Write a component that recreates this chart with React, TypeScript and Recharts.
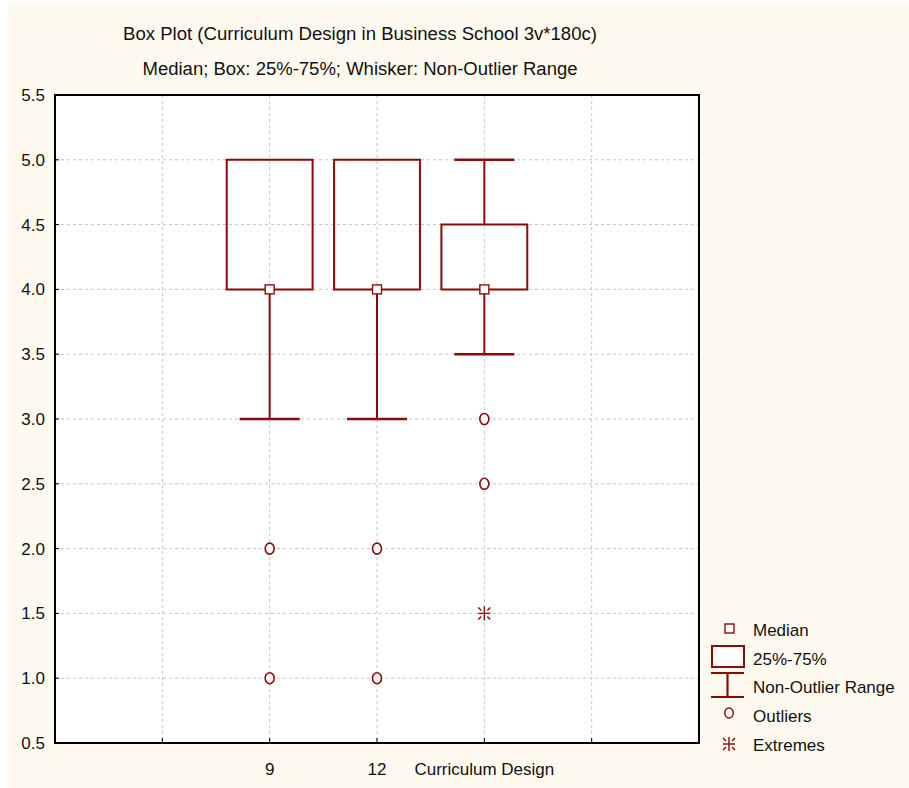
import {
  CartesianGrid,
  ComposedChart,
  ReferenceArea,
  ReferenceLine,
  Scatter,
  XAxis,
  YAxis
} from "recharts";

const xPositions = [2, 3, 4];
const xTickLabels = ["", "9", "12", "Curriculum Design", ""];
const yTicks = [0.5, 1.0, 1.5, 2.0, 2.5, 3.0, 3.5, 4.0, 4.5, 5.0, 5.5];

const whiskerLow = [3.0, 3.0, 3.5];
const quartile1 = [4.0, 4.0, 4.0];
const medians = [4.0, 4.0, 4.0];
const quartile3 = [5.0, 5.0, 4.5];
const whiskerHigh = [5.0, 5.0, 5.0];

const outliers = [
  { x: 2, y: 2.0 },
  { x: 2, y: 1.0 },
  { x: 3, y: 2.0 },
  { x: 3, y: 1.0 },
  { x: 4, y: 3.0 },
  { x: 4, y: 2.5 }
];
const extremes = [{ x: 4, y: 1.5 }];

const legendLabels = ["Median", "25%-75%", "Non-Outlier Range", "Outliers", "Extremes"];

const title = "Box Plot (Curriculum Design in Business School 3v*180c)";
const subtitle = "Median; Box: 25%-75%; Whisker: Non-Outlier Range";

const RED = "#8b0a0a";
const FONT = "'Liberation Sans', Arial, sans-serif";
const BOX_HALF = 0.4;
const CAP_HALF = 0.28;

const medianData = xPositions.map((x, i) => ({ x, y: medians[i] }));

function MedianShape(props: any) {
  const { cx, cy } = props;
  return <rect x={cx - 4.5} y={cy - 4.5} width={9} height={9} fill="#fff" stroke={RED} strokeWidth={1.4} />;
}

function OutlierShape(props: any) {
  const { cx, cy } = props;
  return <ellipse cx={cx} cy={cy} rx={4.5} ry={5.5} fill="#fff" stroke={RED} strokeWidth={1.6} />;
}

function Asterisk({ cx, cy }: { cx: number; cy: number }) {
  const d = [3, 6];
  return (
    <g stroke={RED} strokeWidth={1.4}>
      <line x1={cx - 6} y1={cy} x2={cx + 6} y2={cy} />
      <line x1={cx} y1={cy - 7} x2={cx} y2={cy + 7} />
      {[
        [1, 1],
        [1, -1],
        [-1, 1],
        [-1, -1]
      ].map(([sx, sy], i) => (
        <line key={i} x1={cx + sx * d[0]} y1={cy + sy * d[0]} x2={cx + sx * d[1]} y2={cy + sy * d[1]} />
      ))}
    </g>
  );
}

function ExtremeShape(props: any) {
  return <Asterisk cx={props.cx} cy={props.cy} />;
}

function LegendBox() {
  const textX = 48;
  const ts = { fontFamily: FONT, fontSize: 17, fill: "#111" };
  return (
    <svg width={204} height={150} style={{ position: "absolute", left: 705, top: 615 }}>
      <rect x={20} y={9} width={9} height={9} fill="#fff" stroke={RED} strokeWidth={1.4} />
      <text x={textX} y={21} style={ts}>{legendLabels[0]}</text>
      <rect x={7} y={31} width={32} height={21} fill="#fff" stroke={RED} strokeWidth={2} />
      <text x={textX} y={50} style={ts}>{legendLabels[1]}</text>
      <g stroke={RED} strokeWidth={2.2}>
        <line x1={6} y1={58} x2={39} y2={58} />
        <line x1={22.5} y1={58} x2={22.5} y2={82} />
        <line x1={6} y1={82} x2={39} y2={82} />
      </g>
      <text x={textX} y={78} style={ts}>{legendLabels[2]}</text>
      <ellipse cx={24} cy={98} rx={4.2} ry={5} fill="#fff" stroke={RED} strokeWidth={1.5} />
      <text x={textX} y={107} style={ts}>{legendLabels[3]}</text>
      <Asterisk cx={24} cy={129} />
      <text x={textX} y={136} style={ts}>{legendLabels[4]}</text>
    </svg>
  );
}

export default function App() {
  return (
    <div style={{ position: "absolute", left: 0, top: 0, width: 909, height: 788, background: "#fff", fontFamily: FONT }}>
      <div style={{ position: "absolute", left: 8, top: 3, width: 901, height: 785, background: "#fffaef" }} />
      <svg style={{ position: "absolute", left: 0, top: 0 }} width={909} height={90}>
        <text x={360} y={40} textAnchor="middle" textLength={474} lengthAdjust="spacingAndGlyphs" style={{ fontFamily: FONT, fontSize: 18, fill: "#111" }}>
          {title}
        </text>
        <text x={360} y={75} textAnchor="middle" textLength={435} lengthAdjust="spacingAndGlyphs" style={{ fontFamily: FONT, fontSize: 18, fill: "#111" }}>
          {subtitle}
        </text>
      </svg>
      <div style={{ position: "absolute", left: 0, top: 0 }}>
        <ComposedChart width={909} height={788} margin={{ top: 95, right: 210, bottom: 15, left: 10 }}>
          <CartesianGrid stroke="#c4c4c4" strokeDasharray="3 3" fill="#fff" />
          <XAxis
            type="number"
            dataKey="x"
            domain={[0, 6]}
            ticks={[1, 2, 3, 4, 5]}
            tickFormatter={(v: number) => xTickLabels[v - 1]}
            allowDataOverflow
            height={30}
            stroke="#000"
            tickSize={-5}
            tickMargin={25}
            tick={{ fill: "#111", fontSize: 17, fontFamily: FONT }}
          />
          <YAxis
            type="number"
            dataKey="y"
            domain={[0.5, 5.5]}
            ticks={yTicks}
            tickFormatter={(v: number) => v.toFixed(1)}
            allowDataOverflow
            width={45}
            stroke="#000"
            tickSize={-4}
            tickMargin={14}
            tick={{ fill: "#111", fontSize: 17, fontFamily: FONT }}
          />
          {xPositions.map((x, i) => (
            <ReferenceArea
              key={`box${i}`}
              x1={x - BOX_HALF}
              x2={x + BOX_HALF}
              y1={quartile1[i]}
              y2={quartile3[i]}
              fill="#fff"
              fillOpacity={0}
              stroke={RED}
              strokeWidth={2}
            />
          ))}
          {xPositions.map((x, i) => (
            <ReferenceLine key={`wl${i}`} segment={[{ x, y: quartile1[i] }, { x, y: whiskerLow[i] }]} stroke={RED} strokeWidth={2} />
          ))}
          {xPositions.map((x, i) =>
            whiskerHigh[i] > quartile3[i] ? (
              <ReferenceLine key={`wh${i}`} segment={[{ x, y: quartile3[i] }, { x, y: whiskerHigh[i] }]} stroke={RED} strokeWidth={2} />
            ) : null
          )}
          {xPositions.map((x, i) =>
            whiskerLow[i] < quartile1[i] ? (
              <ReferenceLine key={`cl${i}`} segment={[{ x: x - CAP_HALF, y: whiskerLow[i] }, { x: x + CAP_HALF, y: whiskerLow[i] }]} stroke={RED} strokeWidth={2.4} />
            ) : null
          )}
          {xPositions.map((x, i) =>
            whiskerHigh[i] > quartile3[i] ? (
              <ReferenceLine key={`ch${i}`} segment={[{ x: x - CAP_HALF, y: whiskerHigh[i] }, { x: x + CAP_HALF, y: whiskerHigh[i] }]} stroke={RED} strokeWidth={2.4} />
            ) : null
          )}
          <ReferenceArea x1={0} x2={6} y1={0.5} y2={5.5} fill="none" stroke="#000" strokeWidth={2} />
          <Scatter data={medianData} shape={MedianShape} isAnimationActive={false} />
          <Scatter data={outliers} shape={OutlierShape} isAnimationActive={false} />
          <Scatter data={extremes} shape={ExtremeShape} isAnimationActive={false} />
        </ComposedChart>
      </div>
      <LegendBox />
    </div>
  );
}
